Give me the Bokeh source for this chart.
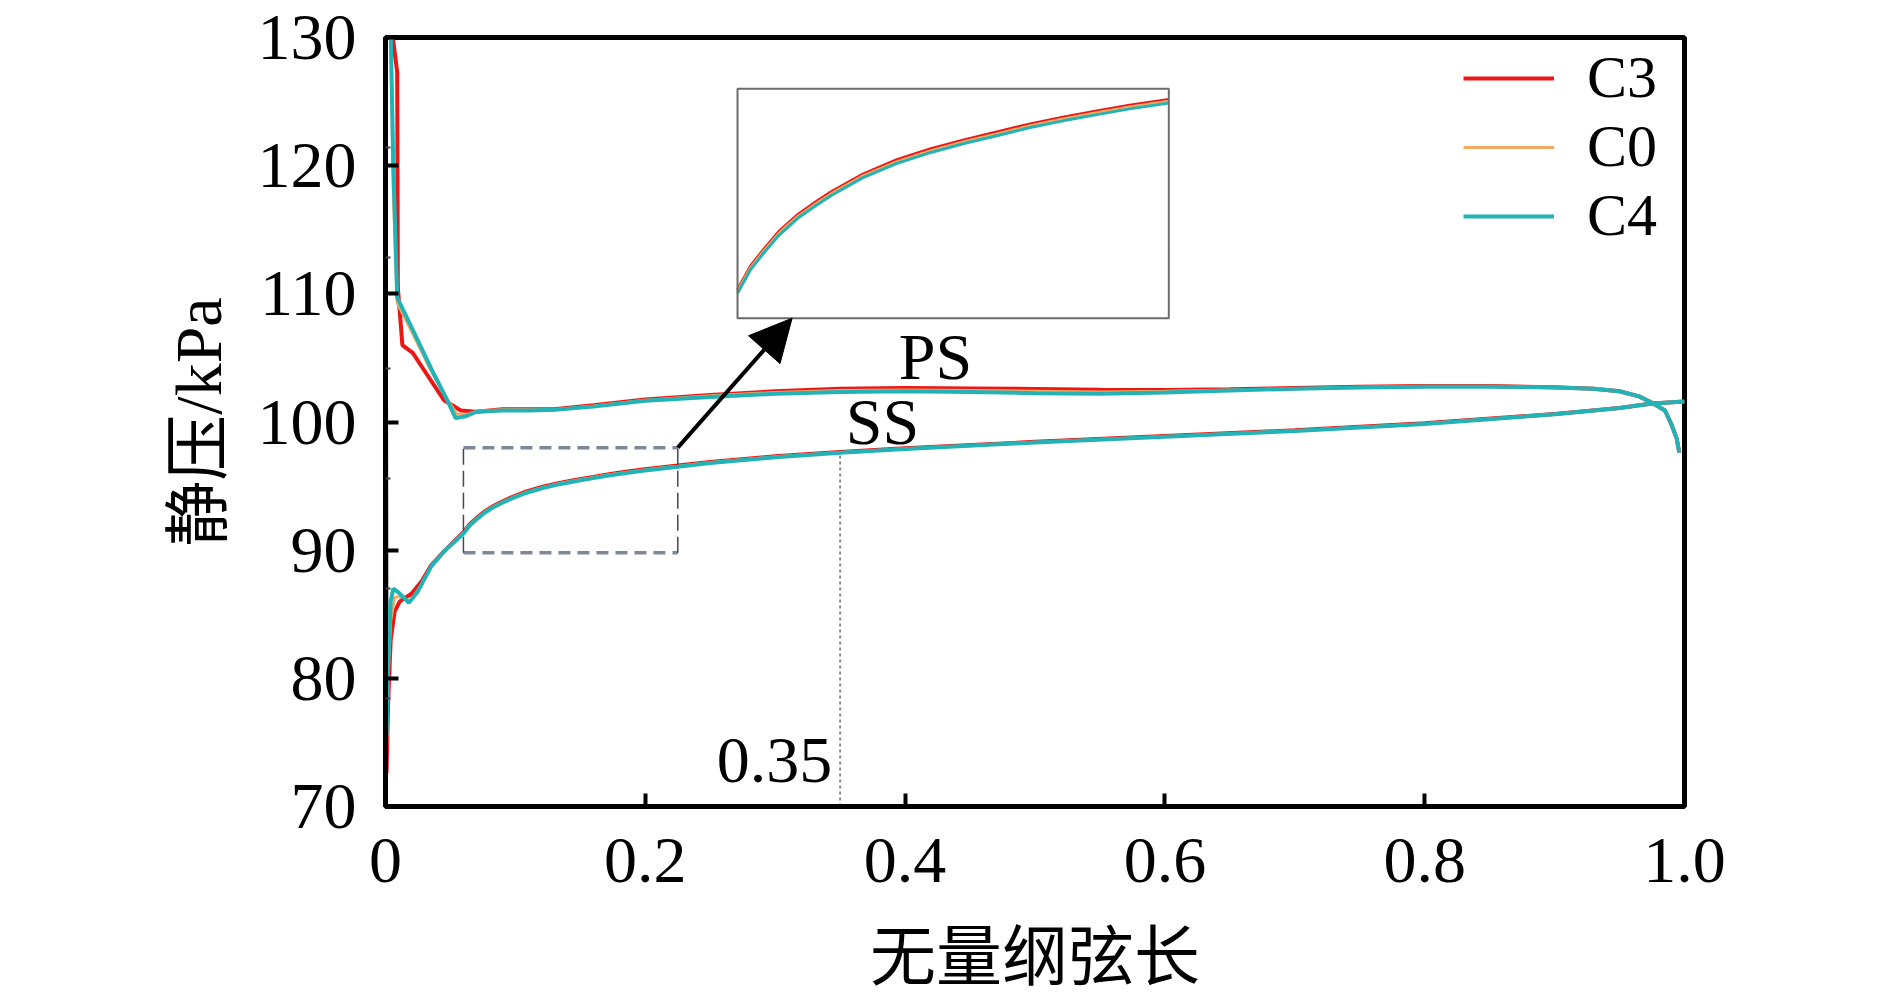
import numpy as np
from bokeh.plotting import figure
from bokeh.models import (FixedTicker, Range1d, Legend, LegendItem, Arrow, NormalHead, Label)
from bokeh.embed import file_html
from bokeh.resources import INLINE

# ---------------- data ----------------
series_names = ["C3", "C0", "C4"]
series_colors = ["#ee1515", "#f2aa62", "#22b3b6"]

# pressure side (PS): leading-edge part per case + shared body
c3_ps_le_x = [0.0, 0.005, 0.009, 0.0095, 0.013, 0.021, 0.03, 0.045, 0.058]
c3_ps_le_y = [132.0, 130.5, 127.3, 110.5, 106.0, 105.4, 104.0, 101.7, 100.9]
c0_ps_le_x = [0.0, 0.004, 0.006, 0.009, 0.02, 0.035, 0.048, 0.055, 0.063]
c0_ps_le_y = [132.0, 130.0, 118.0, 109.3, 107.1, 104.0, 101.7, 100.6, 100.6]
c4_ps_le_x = [0.0, 0.004, 0.006, 0.009, 0.02, 0.035, 0.048, 0.054, 0.062]
c4_ps_le_y = [132.0, 130.5, 120.0, 109.7, 107.4, 104.2, 101.6, 100.3, 100.45]

ps_body_x = [0.07, 0.09, 0.11, 0.13, 0.16, 0.2, 0.25, 0.3, 0.35, 0.4, 0.45, 0.5,
             0.55, 0.6, 0.65, 0.7, 0.75, 0.8, 0.85, 0.9, 0.93, 0.95, 0.965,
             0.975, 0.985, 0.99, 0.994, 0.996]
c3_ps_body_y = [100.8, 101.0, 101.0, 101.0, 101.3, 101.75, 102.1, 102.4, 102.6, 102.65,
                102.62, 102.58, 102.52, 102.5, 102.55, 102.65, 102.75, 102.8, 102.8,
                102.72, 102.6, 102.4, 102.0, 101.5, 100.9, 99.8, 98.7, 97.6]
c0_ps_body_y = [100.85, 100.95, 100.95, 100.95, 101.25, 101.7, 102.05, 102.3, 102.45,
                102.5, 102.45, 102.4, 102.35, 102.4, 102.5, 102.6, 102.72, 102.78,
                102.78, 102.7, 102.6, 102.4, 102.0, 101.5, 100.9, 99.8, 98.7, 97.6]
c4_ps_body_y = [100.8, 100.9, 100.9, 100.95, 101.2, 101.65, 101.95, 102.2, 102.35, 102.4,
                102.35, 102.25, 102.2, 102.3, 102.45, 102.6, 102.7, 102.75, 102.75,
                102.7, 102.6, 102.4, 102.0, 101.5, 100.9, 99.8, 98.7, 97.6]

# suction side (SS)
c3_ss_le_x = [0.0, 0.0008, 0.002, 0.004, 0.007, 0.011, 0.02, 0.028, 0.035, 0.045]
c3_ss_le_y = [132.0, 72.6, 78.0, 83.0, 85.2, 86.0, 86.6, 87.6, 88.8, 89.9]
c0_ss_le_x = [0.0, 0.0008, 0.002, 0.004, 0.007, 0.012, 0.019, 0.027, 0.035, 0.045]
c0_ss_le_y = [132.0, 74.5, 80.0, 84.5, 86.3, 86.4, 86.0, 87.2, 88.7, 89.9]
c4_ss_le_x = [0.0, 0.0008, 0.002, 0.004, 0.006, 0.01, 0.018, 0.025, 0.035, 0.045]
c4_ss_le_y = [132.0, 75.5, 81.0, 86.0, 87.0, 86.7, 85.9, 86.8, 88.7, 89.9]

ss_body_x = [0.06, 0.065, 0.07, 0.076, 0.083, 0.09, 0.096, 0.108, 0.121, 0.134, 0.147,
             0.16, 0.172, 0.185, 0.198, 0.21, 0.225, 0.25, 0.3, 0.35, 0.4, 0.5, 0.6,
             0.7, 0.8, 0.9, 0.95, 0.975, 1.0]
c4_ss_body_y = [91.3, 91.95, 92.4, 92.9, 93.35, 93.7, 93.98, 94.46, 94.85, 95.15, 95.4,
                95.62, 95.83, 96.02, 96.19, 96.34, 96.5, 96.8, 97.25, 97.6, 97.9, 98.4,
                98.85, 99.3, 99.85, 100.6, 101.1, 101.45, 101.6]
c0_ss_body_y = [91.35, 92.0, 92.45, 92.95, 93.4, 93.75, 94.03, 94.51, 94.9, 95.2, 95.45,
                95.67, 95.88, 96.07, 96.24, 96.39, 96.55, 96.84, 97.28, 97.62, 97.92,
                98.42, 98.87, 99.32, 99.87, 100.6, 101.1, 101.45, 101.6]
c3_ss_body_y = [91.4, 92.05, 92.5, 93.0, 93.45, 93.8, 94.08, 94.56, 94.95, 95.25, 95.5,
                95.72, 95.93, 96.12, 96.29, 96.44, 96.6, 96.88, 97.32, 97.65, 97.95,
                98.45, 98.9, 99.35, 99.9, 100.62, 101.1, 101.45, 101.6]

x_ticks = [0, 0.2, 0.4, 0.6, 0.8, 1.0]
x_tick_labels = ["0", "0.2", "0.4", "0.6", "0.8", "1.0"]
y_ticks = [70, 80, 90, 100, 110, 120, 130]
y_minor_ticks = [78.4, 87.0, 95.6, 104.2, 112.8, 121.4]

marker_x = 0.35                    # marked chord position
zoom_x = [0.06, 0.225]             # zoomed chord window (inset)
zoom_rect_y = [89.8, 98.0]         # dashed window on the main axes
inset_y = [90.62, 96.89]           # value window shown in inset

# ---------------- figure ----------------
X0, X1, Y0, Y1 = 0.0, 1.0, 70.0, 130.0
SERIF = "Liberation Serif"
CJK = "Noto Sans CJK SC"

p = figure(width=1890, height=996, x_range=Range1d(X0, X1), y_range=Range1d(Y0, Y1),
           output_backend="svg", toolbar_location=None,
           min_border_left=385, min_border_top=37, min_border_right=206, min_border_bottom=189)
p.xgrid.visible = False
p.ygrid.visible = False
p.outline_line_color = "black"
p.outline_line_width = 5
p.background_fill_color = "white"
p.border_fill_color = "white"

xa = p.xaxis[0]
xa.ticker = FixedTicker(ticks=x_ticks, minor_ticks=[])
xa.major_label_overrides = {t: l for t, l in zip(x_ticks, x_tick_labels)}
ya = p.yaxis[0]
ya.ticker = FixedTicker(ticks=y_ticks, minor_ticks=y_minor_ticks)

for ax in (xa, ya):
    ax.axis_line_width = 5
    ax.axis_line_color = "black"
    ax.major_tick_in = 13
    ax.major_tick_out = 0
    ax.major_tick_line_width = 4
    ax.major_tick_line_color = "black"
    ax.minor_tick_in = 5
    ax.minor_tick_out = 0
    ax.minor_tick_line_width = 2
    ax.minor_tick_line_color = "#444444"
    ax.major_label_text_font = SERIF
    ax.major_label_text_font_size = "66px"
    ax.major_label_text_color = "black"
    ax.axis_label_text_font = SERIF + ", " + CJK
    ax.axis_label_text_font_size = "66px"
    ax.axis_label_text_font_style = "normal"
    ax.axis_label_text_color = "black"

xa.axis_label = "无量纲弦长"
xa.major_label_standoff = 32
xa.axis_label_standoff = 36
xa.axis_label_text_line_height = 1.0
ya.axis_label = "静压/kPa"
ya.major_label_standoff = 29
ya.axis_label_standoff = 20

# ---------------- curves ----------------
ps_x = [c3_ps_le_x + ps_body_x, c0_ps_le_x + ps_body_x, c4_ps_le_x + ps_body_x]
ps_y = [c3_ps_le_y + c3_ps_body_y, c0_ps_le_y + c0_ps_body_y, c4_ps_le_y + c4_ps_body_y]
ss_x = [c3_ss_le_x + ss_body_x, c0_ss_le_x + ss_body_x, c4_ss_le_x + ss_body_x]
ss_y = [c3_ss_le_y + c3_ss_body_y, c0_ss_le_y + c0_ss_body_y, c4_ss_le_y + c4_ss_body_y]
widths = [4, 3, 4]

legend_renderers = []
for i, name in enumerate(series_names):
    r = p.line(ps_x[i], ps_y[i], line_color=series_colors[i], line_width=widths[i])
    p.line(ss_x[i], ss_y[i], line_color=series_colors[i], line_width=widths[i])
    legend_renderers.append(r)

# marker line at x = 0.35 down from the suction-side curve
ss_at_marker = float(np.interp(marker_x, ss_x[2], ss_y[2]))
p.segment(x0=[marker_x], y0=[Y0], x1=[marker_x], y1=[ss_at_marker],
          line_color="#8a8a8a", line_width=2, line_dash="3 3")

# dashed zoom window
p.segment(x0=[zoom_x[0], zoom_x[0]], y0=[zoom_rect_y[0], zoom_rect_y[1]],
          x1=[zoom_x[1], zoom_x[1]], y1=[zoom_rect_y[0], zoom_rect_y[1]],
          line_color="#7f889b", line_width=3.5, line_dash="12 7")
p.segment(x0=[zoom_x[0], zoom_x[1]], y0=[zoom_rect_y[0], zoom_rect_y[0]],
          x1=[zoom_x[0], zoom_x[1]], y1=[zoom_rect_y[1], zoom_rect_y[1]],
          line_color="#3e4860", line_width=1.5, line_dash="16 6")

# ---------------- inset (own ranges mapped onto a box of the frame) ----------------
box_x = (0.271, 0.603)     # inset box on the main axes
box_y = (108.1, 126.0)


def mapped_range(d0, d1, b0, b1, m0, m1):
    k = (d1 - d0) / (b1 - b0)
    return Range1d(d0 - (b0 - m0) * k, d0 + (m1 - b0) * k)


p.extra_x_ranges = {"inset": mapped_range(zoom_x[0], zoom_x[1], box_x[0], box_x[1], X0, X1)}
p.extra_y_ranges = {"inset": mapped_range(inset_y[0], inset_y[1], box_y[0], box_y[1], Y0, Y1)}

for i, name in enumerate(series_names):
    xs = np.array(ss_x[i])
    ys = np.array(ss_y[i])
    m = (xs >= zoom_x[0]) & (xs <= zoom_x[1])
    p.line(xs[m], ys[m], line_color=series_colors[i], line_width=3,
           x_range_name="inset", y_range_name="inset")

p.quad(left=[zoom_x[0]], right=[zoom_x[1]], bottom=[inset_y[0]], top=[inset_y[1]],
       fill_alpha=0, line_color="#6b6b6b", line_width=2,
       x_range_name="inset", y_range_name="inset")

# arrow from the dashed window to the inset
p.add_layout(Arrow(end=NormalHead(size=42, fill_color="black", line_color="black"),
                   x_start=zoom_x[1], y_start=zoom_rect_y[1], x_end=0.313, y_end=box_y[0],
                   line_color="black", line_width=4))

# ---------------- annotations ----------------
p.add_layout(Label(x=0.4234, y=105.1, text="PS", text_align="center",
                   text_baseline="alphabetic", text_font=SERIF, text_font_size="66px",
                   text_color="black"))
p.add_layout(Label(x=0.3826, y=100.05, text="SS", text_align="center",
                   text_baseline="alphabetic", text_font=SERIF, text_font_size="66px",
                   text_color="black"))
p.add_layout(Label(x=0.344, y=73.6, text="0.35", text_align="right",
                   text_baseline="alphabetic", text_font=SERIF, text_font_size="66px",
                   text_color="black"))

# ---------------- legend ----------------
legend = Legend(items=[LegendItem(label=n, renderers=[r]) for n, r in zip(series_names, legend_renderers)],
                location=(1078, 556), orientation="vertical", border_line_color=None,
                background_fill_alpha=0, padding=0, margin=0, spacing=0,
                glyph_width=91, glyph_height=64, label_height=64, label_standoff=33,
                label_text_font=SERIF, label_text_font_size="60px", label_text_color="black",
                label_text_line_height=0.9)
p.add_layout(legend)

open("out.html", "w").write(file_html(p, INLINE))
